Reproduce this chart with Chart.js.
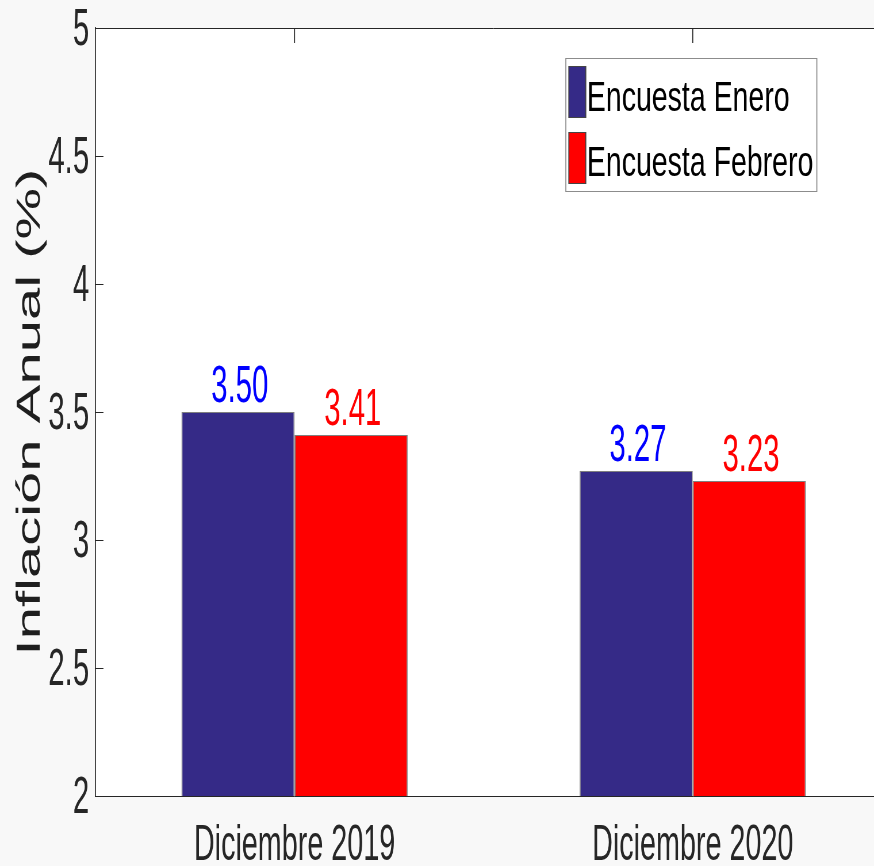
<!DOCTYPE html>
<html><head><meta charset="utf-8">
<script src="https://cdn.jsdelivr.net/npm/chart.js@4.4.1/dist/chart.umd.min.js"></script>
<style>
html,body{margin:0;padding:0;background:#f8f8f8;overflow:hidden;}
#clip{width:874px;height:866px;overflow:hidden;position:relative;}
#wide{width:1600px;height:866px;transform:scaleX(0.575);transform-origin:0 0;}
canvas{display:block;}
</style></head><body>
<div id="clip"><div id="wide"><canvas id="c" width="1600" height="866"></canvas></div></div>
<script>
// ---- data ----
const categories = ['Diciembre 2019', 'Diciembre 2020'];
const seriesNames = ['Encuesta Enero', 'Encuesta Febrero'];
const eneroValues = [3.50, 3.27];
const febreroValues = [3.41, 3.23];
const yTickValues = [2, 2.5, 3, 3.5, 4, 4.5, 5];
const yTickLabels = ['2', '2.5', '3', '3.5', '4', '4.5', '5'];
const yTitle = 'Inflación Anual (%)';

// ---- style ----
const S = 0.575;               // horizontal squeeze of the whole figure
const FONT = "'Liberation Sans', Arial, sans-serif";
const AX = '#262626';
const barColors = ['#352a87', '#ff0000'];
const labelColors = ['#0000ff', '#ff0000'];

const frame = {
  id: 'frame',
  beforeDraw(chart) {
    const {ctx, chartArea: a} = chart;
    ctx.save();
    ctx.fillStyle = '#ffffff';
    ctx.fillRect(a.left, a.top, a.right - a.left, a.bottom - a.top);
    ctx.restore();
  },
  afterDraw(chart) {
    const {ctx, chartArea: a, scales} = chart;
    ctx.save();
    ctx.strokeStyle = AX;
    ctx.lineWidth = 1;
    ctx.beginPath(); ctx.moveTo(a.left, a.top + 0.5); ctx.lineTo(a.right, a.top + 0.5); ctx.stroke();
    yTickValues.forEach(v => {
      const py = Math.round(scales.y.getPixelForValue(v)) + 0.5;
      ctx.beginPath(); ctx.moveTo(a.left, py); ctx.lineTo(a.left + 8 / S, py); ctx.stroke();
    });
    ctx.lineWidth = 1 / S;
    categories.forEach((c, i) => {
      const px = scales.x.getPixelForValue(i);
      ctx.beginPath(); ctx.moveTo(px, a.top); ctx.lineTo(px, a.top + 15); ctx.stroke();
    });
    ctx.restore();
  }
};

const valueLabels = {
  id: 'valueLabels',
  afterDatasetsDraw(chart) {
    const {ctx} = chart;
    ctx.save();
    ctx.font = `51px ${FONT}`;
    ctx.textAlign = 'center';
    ctx.textBaseline = 'alphabetic';
    chart.data.datasets.forEach((ds, di) => {
      chart.getDatasetMeta(di).data.forEach((bar, i) => {
        ctx.fillStyle = labelColors[di];
        ctx.fillText(ds.data[i].toFixed(2), bar.x + 3, bar.y - 10);
      });
    });
    ctx.restore();
  }
};

const legendBox = {
  id: 'legendBox',
  afterDraw(chart) {
    const {ctx, chartArea: a} = chart;
    const L = a.right - 326 / S, R = a.right - 75 / S, T = a.top + 30, B = a.top + 164;
    ctx.save();
    ctx.fillStyle = '#ffffff';
    ctx.fillRect(L, T, R - L, B - T);
    ctx.strokeStyle = '#8c8c8c';
    ctx.lineWidth = 1;
    ctx.beginPath(); ctx.moveTo(L, T + 0.5); ctx.lineTo(R, T + 0.5);
    ctx.moveTo(L, B - 0.5); ctx.lineTo(R, B - 0.5); ctx.stroke();
    ctx.lineWidth = 1 / S;
    ctx.beginPath(); ctx.moveTo(L, T); ctx.lineTo(L, B);
    ctx.moveTo(R, T); ctx.lineTo(R, B); ctx.stroke();
    seriesNames.forEach((name, i) => {
      const sy = T + 8 + i * 66;
      const sx = L + 3 / S;
      const sw = 17 / S, sh = 52;
      ctx.fillStyle = barColors[i];
      ctx.fillRect(sx, sy, sw, sh);
      ctx.strokeStyle = '#444444';
      ctx.lineWidth = 1;
      ctx.beginPath(); ctx.moveTo(sx, sy + 0.5); ctx.lineTo(sx + sw, sy + 0.5);
      ctx.moveTo(sx, sy + sh - 0.5); ctx.lineTo(sx + sw, sy + sh - 0.5); ctx.stroke();
      ctx.lineWidth = 1 / S;
      ctx.beginPath(); ctx.moveTo(sx, sy); ctx.lineTo(sx, sy + sh);
      ctx.moveTo(sx + sw, sy); ctx.lineTo(sx + sw, sy + sh); ctx.stroke();
      ctx.save();
      ctx.translate(L + 21 / S, T + 53 + i * 65.3);
      ctx.scale(1.18, 1);
      ctx.fillStyle = '#000000';
      ctx.font = `42px ${FONT}`;
      ctx.textAlign = 'left';
      ctx.textBaseline = 'alphabetic';
      ctx.fillText(name, 0, 0);
      ctx.restore();
    });
    ctx.restore();
  }
};

const noPad = s => { s.paddingTop = 0; s.paddingBottom = 0; s.paddingLeft = 0; s.paddingRight = 0; };

new Chart(document.getElementById('c'), {
  type: 'bar',
  data: {
    labels: categories,
    datasets: [
      { label: seriesNames[0], data: eneroValues, backgroundColor: barColors[0] },
      { label: seriesNames[1], data: febreroValues, backgroundColor: barColors[1] }
    ]
  },
  options: {
    responsive: false,
    animation: false,
    devicePixelRatio: 1,
    layout: { padding: { top: 28, right: 49, left: 0, bottom: 0 } },
    datasets: {
      bar: {
        barPercentage: 1,
        categoryPercentage: 0.568,
        borderColor: '#7f7f7f',
        borderWidth: { top: 1, left: 1 / S, right: 1 / S, bottom: 0 },
        borderSkipped: 'start'
      }
    },
    plugins: { legend: { display: false }, tooltip: { enabled: false } },
    scales: {
      x: {
        type: 'category',
        offset: true,
        grid: { display: false, drawTicks: false },
        border: { display: true, color: AX, width: 1 },
        ticks: { font: { family: FONT, size: 50 }, color: AX, padding: 20, maxRotation: 0, autoSkip: false },
        afterFit: s => { s.height = 70; noPad(s); }
      },
      y: {
        min: 2, max: 5,
        grid: { display: false, drawTicks: false },
        border: { display: true, color: AX, width: 1 / S },
        afterBuildTicks: s => { s.ticks = yTickValues.map(v => ({ value: v })); },
        ticks: {
          font: { family: FONT, size: 51 }, color: AX, padding: 11, labelOffset: 3,
          callback: (v) => yTickLabels[yTickValues.indexOf(v)]
        },
        title: { display: true, text: yTitle, font: { family: FONT, size: 58 }, color: '#1e1e1e', padding: { top: 18, bottom: 0 } },
        afterFit: s => { s.width = 166; noPad(s); }
      }
    }
  },
  plugins: [frame, valueLabels, legendBox]
});
</script>
</body></html>
